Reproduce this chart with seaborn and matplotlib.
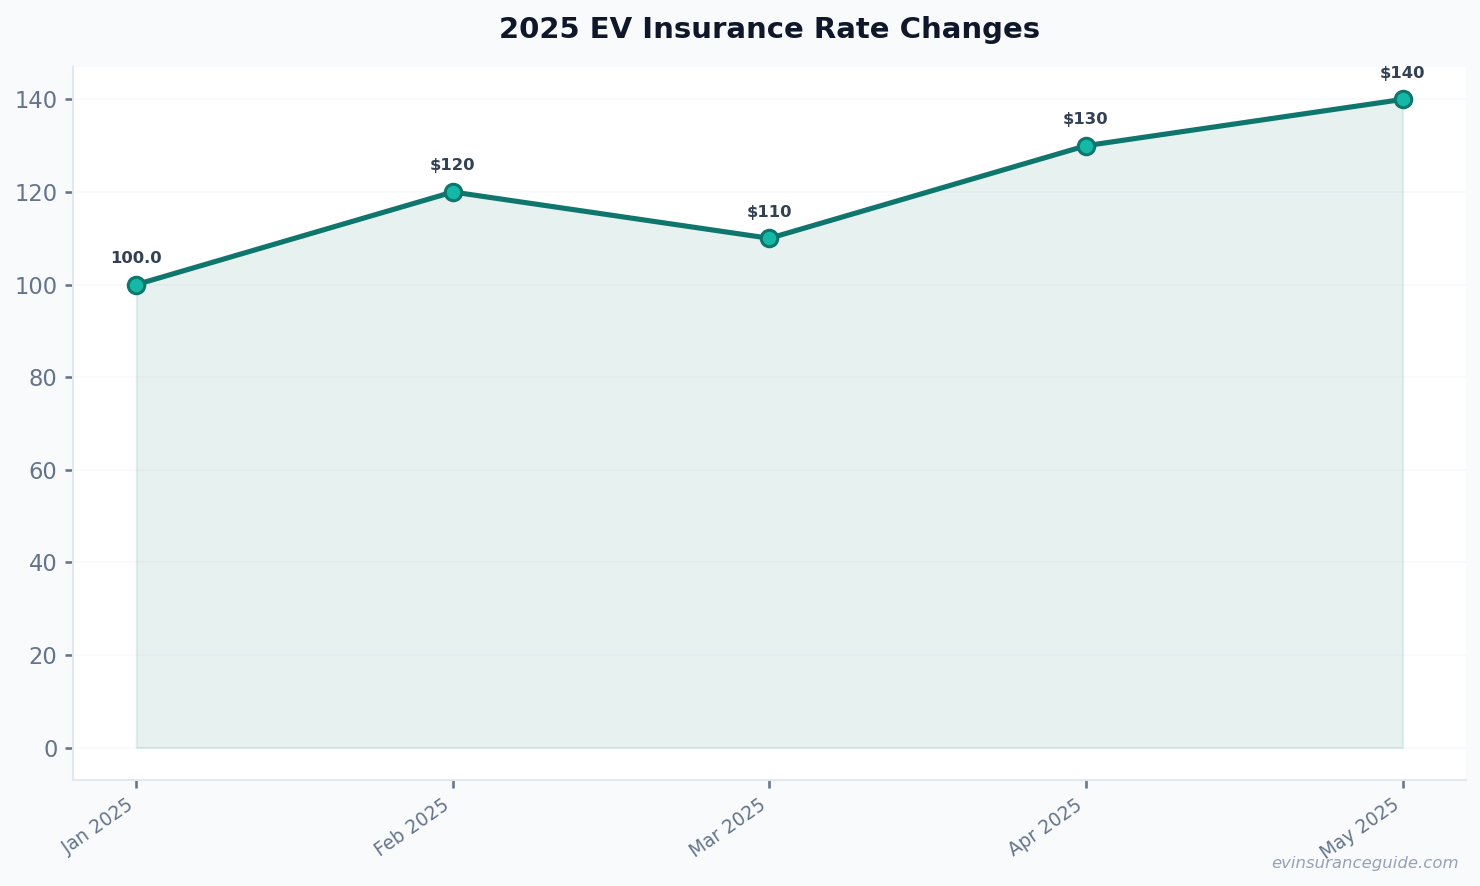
import pandas as pd
import matplotlib.pyplot as plt
import seaborn as sns

# ── data ──────────────────────────────────────────────────────────────────────
months = ["Jan 2025", "Feb 2025", "Mar 2025", "Apr 2025", "May 2025"]
rates  = [100, 120, 110, 130, 140]
labels = ["100.0", "$120", "$110", "$130", "$140"]

LINE   = "#0f766e"
MARKER = "#14b8a6"
MUTED  = "#64748b"

sns.set_theme(style="white")
plt.rcParams["font.family"] = "DejaVu Sans"

df = pd.DataFrame({"month": months, "rate": rates})

fig, ax = plt.subplots(figsize=(10, 886 / 148), dpi=148)
fig.patch.set_facecolor("#f8fafc")
ax.set_facecolor("white")
fig.subplots_adjust(left=0.0493, right=0.9905, top=0.9244, bottom=0.1196)

x = list(range(len(months)))
ax.fill_between(x, rates, 0, color=LINE, alpha=0.1, zorder=1)
sns.lineplot(x=x, y=df["rate"], ax=ax, color=LINE, linewidth=2.5,
             marker="o", markersize=8, markerfacecolor=MARKER,
             markeredgecolor=LINE, markeredgewidth=1.5, zorder=3)

for xi, v, lab in zip(x, rates, labels):
    ax.annotate(lab, (xi, v), xytext=(0, 9), textcoords="offset points",
                ha="center", va="bottom", fontsize=8, fontweight="bold",
                color="#334155")

ax.set_xticks(x)
ax.set_xticklabels(months, rotation=35, ha="right", fontsize=9, color=MUTED)
ax.tick_params(axis="y", labelsize=11, labelcolor=MUTED)
ax.tick_params(axis="both", length=4, color=MUTED, bottom=True, left=True)
ax.set_xlabel("")
ax.set_ylabel("")

ax.yaxis.grid(True, color="#f1f5f9", linewidth=0.8, alpha=0.6)
ax.xaxis.grid(False)
ax.set_axisbelow(True)
for side in ["top", "right"]:
    ax.spines[side].set_visible(False)
for side in ["left", "bottom"]:
    ax.spines[side].set_color("#e2e8f0")
    ax.spines[side].set_linewidth(1.0)

ax.set_title("2025 EV Insurance Rate Changes", fontsize=14.2, fontweight="bold",
             color="#0f172a", pad=14)
fig.text(0.986, 0.017, "evinsuranceguide.com", ha="right", va="bottom",
         fontsize=8, style="italic", color="#94a3b8")

plt.savefig("out.png", dpi=148, facecolor=fig.get_facecolor())
plt.close()
